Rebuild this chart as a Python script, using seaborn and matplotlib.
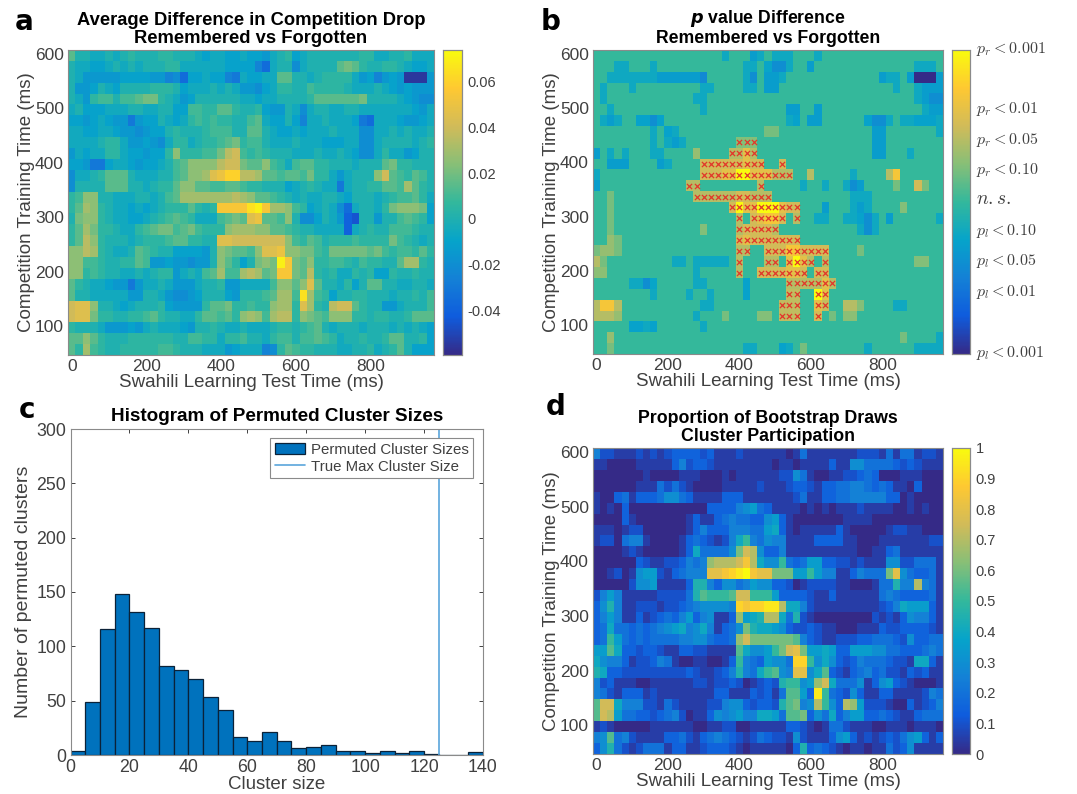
import numpy as np
import pandas as pd
import matplotlib.pyplot as plt
from matplotlib.colors import LinearSegmentedColormap
from matplotlib.transforms import ScaledTranslation
import seaborn as sns

# Time axes of the heatmaps (ms)
test_times = list(range(0, 980, 20))
train_times = list(range(600, 40, -20))

# Panel a, one row per training time from 600 down to 60, in units of 0.005
avg_diff = [
    [3, 0, 0, -1, -1, 0, -1, 0, 1, 0, 0, 0, 1, 1, 0, 0, 0, -1, -2, -1, -1, -2, -2, -1, -2, -2, -3, -1, 0, 1, -2, -1, 0, 0, 0, 0, 0, 0, 0, 1, 1, -1, -1, 0, 0, 1, -1, -1, -1],
    [0, -1, -1, -2, -2, -1, 0, -1, 0, -1, 0, 0, 0, 1, 1, -1, -1, -1, -1, -1, -1, -2, -2, -2, -2, -5, -7, -1, 0, 0, -4, -1, 0, 0, 0, 0, 3, 4, 3, 1, 0, 0, 1, 1, 0, -1, -2, -2, -1],
    [0, -1, -3, -3, -3, -3, -3, -2, -2, -2, -2, -3, -3, -5, -4, -7, -2, -2, -1, -2, -2, -5, -6, -1, -2, -2, -1, -1, 3, 3, 0, 0, -1, 0, 1, 1, 1, 1, -1, -3, -2, -5, -3, -2, -3, -11, -11, -11, -3],
    [0, -3, -3, -2, 0, -1, -2, 0, 0, 0, 0, 1, 1, 1, 0, -2, -1, -1, -1, 0, -1, 0, -1, -3, -3, -4, -2, -1, 1, 1, 0, 0, 2, 1, 1, 1, 1, 0, -1, -1, -1, 0, -1, -2, -3, -2, -3, -3, -3],
    [0, -1, -3, 1, 2, 2, 0, 2, 2, 3, 4, 4, 1, 0, -1, -3, -2, 0, 0, 0, 0, 0, 0, -1, -1, -2, -1, -1, 0, 0, 0, 0, 1, 3, 3, 3, 3, 3, 3, 4, 0, 0, 0, 0, -1, -2, -3, -4, -4],
    [-1, 0, -2, -2, -2, -1, -1, -1, 0, 0, -1, -1, 0, 0, -2, -2, 2, 2, 1, 1, 3, 3, 1, 0, 0, 1, -2, -3, -3, 0, -1, -4, -1, 0, 0, -1, -1, 0, 0, -1, -1, -1, -1, -1, -1, -1, -2, -3, -1],
    [-2, -2, -3, -2, -1, -2, -3, -3, -6, -3, -2, -2, 0, -1, -2, -1, 1, 2, 1, 2, 1, 1, 0, 0, 2, 3, -1, -2, -2, 0, -2, -5, -1, -1, 0, -1, -1, -1, -2, -6, -7, -1, -1, -1, -2, -3, -3, -2, -1],
    [-1, -1, -2, -2, -1, -1, -2, -3, -3, -4, -3, -2, -2, 0, 1, 0, 0, 0, 1, 2, 2, 2, 0, 0, 3, 3, 0, -1, -2, -2, -1, -2, -1, -1, -1, 0, -1, -1, -1, -4, -4, -1, -1, 0, -1, 0, -1, -1, 0],
    [-1, -1, -1, -1, 0, 1, 1, -1, -3, -3, -2, -3, -4, -1, 1, 1, -1, 0, 1, 1, 2, 3, 4, 1, 2, 2, 0, -1, -1, -1, 0, -1, -1, -1, -2, -2, -2, -1, -1, -4, -4, -1, 0, 0, 0, 0, -1, 0, 1],
    [-3, -1, -2, -1, -1, 1, 1, -1, -2, -2, -3, -2, -2, 1, 5, 1, 1, 1, 2, 2, 4, 7, 8, 2, 1, 2, 1, 0, 0, 0, -1, -1, -1, 0, -1, -1, 0, -1, -2, -4, -4, -1, 1, -1, -1, -3, -2, 0, 0],
    [-2, -2, -3, -6, -6, -2, -1, -1, -2, -3, -2, -2, -1, 0, 2, 3, 5, 5, 5, 5, 7, 8, 8, 4, 3, 3, 5, 2, 1, -1, 2, 3, 3, 1, 1, 0, 0, 0, -1, 0, 0, 0, 3, 4, 1, 1, 0, 0, 0],
    [-4, -1, -1, 0, 1, 3, 3, 3, 0, -1, -1, -1, 0, 0, 2, 3, 5, 5, 6, 9, 10, 12, 12, 7, 7, 6, 3, 3, 2, 3, 3, 2, 4, 1, 1, -1, -3, -1, 0, 0, 0, 5, 8, 3, 2, 1, 3, 2, 0],
    [-4, 0, 0, 0, 0, 3, 3, 3, 0, 0, -1, 0, 1, 1, 3, 5, 5, 3, 3, 2, 2, 3, 3, 2, 1, 1, 0, 0, 0, -2, -1, 0, 1, 0, -1, -1, -6, -1, 0, 0, 1, 1, 3, 3, 2, 6, 3, 1, 0],
    [1, 2, 5, 5, 0, 0, -1, -1, -1, 0, 0, -1, 0, 2, 3, 6, 6, 6, 6, 6, 6, 6, 7, 6, 5, 3, 3, 2, 1, 0, -1, 0, -1, -1, 0, 0, -1, -2, 0, 0, 0, -1, 0, 1, 2, 2, 3, 1, -1],
    [1, 3, 6, 5, 1, 0, -1, -1, -2, -1, -2, -1, 0, 1, 1, 1, 3, 1, 0, 1, 11, 11, 11, 11, 13, 14, 11, 6, 6, 5, 2, 1, -2, -1, 0, -1, -4, -7, -1, 0, 0, -1, 1, 4, 5, 5, 5, 4, -2],
    [0, 4, 5, 5, 1, 0, -1, -1, -2, -2, -1, 0, 1, 2, 3, 2, 1, -1, -1, -1, 2, 3, 4, 3, 9, 10, 3, 3, 2, 5, 0, -4, -4, -2, 0, -1, -3, -8, -9, 0, 0, -3, 0, 0, 2, 3, 2, 1, -2],
    [1, 3, 6, 4, 1, 1, 0, -1, -1, 1, 2, 3, 4, 4, 2, 3, 4, 2, 1, 1, 1, 5, 6, 6, 6, 5, 5, 3, 3, 2, 1, 0, 0, -1, -1, -1, -1, -8, -1, 0, 1, 0, 0, 2, 2, 2, 1, 0, 0],
    [1, 3, 7, 5, 1, 0, 0, 0, -1, 0, 1, 1, 1, 2, 3, 3, 1, 1, 0, 0, 9, 9, 8, 8, 8, 8, 8, 8, 8, 5, 2, 1, 3, 2, 0, 1, 1, 1, 2, 1, 1, 1, 1, 4, 2, 1, 0, -1, 0],
    [5, 5, 7, 6, 1, 0, -1, -1, 0, 3, 2, 1, 0, 0, -2, -2, -2, -2, -3, 0, 5, 4, 3, 3, 2, 5, 9, 9, 10, 5, 5, 4, 4, 2, 1, 4, 4, 4, 4, 4, 3, 4, 2, 1, 2, 2, 1, 3, 1],
    [5, 5, 2, 2, 1, 0, 0, 1, 1, 3, 2, -3, -3, -2, -3, -3, -4, -3, -3, 0, 5, 3, 1, -2, 0, 4, 5, 4, 14, 11, 4, 3, 5, 1, 1, 2, 2, 1, 0, 2, 1, 1, 0, 0, 3, 6, 6, 1, 0],
    [5, 5, 1, 2, 1, 0, 0, -1, -1, 0, -1, 0, 1, 1, -3, -1, 0, -1, 2, 3, 6, 2, 2, 6, 7, 6, 3, 4, 11, 11, 4, 3, 7, 1, 0, 1, -1, -1, 1, 0, 1, -2, -2, 1, 0, 0, 1, 0, 0],
    [3, 1, 0, -1, -1, -2, -3, -3, -6, -3, -1, -1, 0, -1, -3, -3, -3, -1, 0, 0, 1, -3, -3, -1, -1, -1, -1, 2, 5, 5, 3, 5, 9, 3, 0, 0, -1, 1, -2, 0, 3, 3, 0, 0, -1, -1, 0, 0, -1],
    [3, 0, 0, -1, -1, -1, -1, -1, -3, -3, 0, 0, -1, -3, -4, -4, -3, -2, 0, 0, 0, -2, -3, 1, 1, 1, 2, 3, 6, 6, 2, 13, 6, 2, 1, -2, 0, 0, 1, 1, 0, 0, 0, -1, 0, 0, 1, 0, 2],
    [8, 9, 9, 5, 0, 0, -1, -2, -1, 0, 0, 0, 1, -2, -3, -3, -3, -3, 1, 3, 3, 4, 1, 1, 2, 1, 1, 5, 6, 6, 1, 9, 6, 1, 0, 7, 8, 8, 3, 1, 0, 0, -3, -3, -1, 0, 0, 0, 2],
    [8, 9, 9, 4, 1, 1, 0, 0, 1, 1, 2, 3, 1, 0, 0, -1, -1, 1, 3, 3, 2, 3, 1, 5, 6, 5, 2, 6, 7, 7, 1, 5, 4, 3, 2, 5, 5, 5, 1, 1, 0, 1, 1, 0, 0, 1, 3, 3, 3],
    [1, 0, 0, 0, -1, -3, -3, -3, -2, -3, -1, 0, -1, -1, -1, -2, -3, 0, 0, 1, 0, -1, -1, 0, -1, -1, -1, 0, 1, 1, 0, 1, 2, 3, 0, -1, 0, 0, 0, -1, 0, 0, 0, -1, 0, -1, 0, -1, -2],
    [3, 3, 5, 3, 1, 0, 0, 0, 1, 1, 1, 1, 1, 1, 0, 0, 2, 2, 1, 1, -1, 1, 1, 2, 0, 0, -1, 1, 2, 2, 0, 2, 2, 3, 2, 1, -1, 0, 0, 1, 0, 0, 1, 3, 3, 0, 0, 1, -2],
    [3, 1, 6, 2, 1, 0, 0, 1, 1, 1, 1, 1, 2, 2, 1, 0, 0, 0, -1, -1, -1, -3, -2, -1, -1, -1, -5, -4, 1, 3, 2, 1, 1, 0, 0, 0, -1, -1, 0, 0, 1, -1, 0, 1, 3, 0, -2, -2, -2],
]

# Panel b, p value level per row as {column: level}; anything not listed is n.s.
p_levels = [
    {18: -1, 22: -1.5, 23: -1, 25: -1, 26: -1, 27: -1, 31: -1},
    {3: -1, 4: -1, 8: -1, 21: -1, 22: -1, 24: -1.2, 25: -2, 26: -2, 27: -1, 30: -1.5, 45: -1, 46: -1, 47: -1},
    {2: -1, 3: -1, 4: -1, 5: -1, 6: -1, 7: -1, 8: -1, 9: -1.5, 10: -1.5, 11: -1.5, 12: -1.5, 13: -1.5, 14: -1.5, 15: -2.2, 21: -1, 22: -2, 24: -1.5, 25: -1.5, 26: -1, 40: -1.5, 41: -1, 42: -1, 44: -1.5, 45: -5, 46: -5, 47: -5, 48: -1.5},
    {1: -1, 5: -1, 15: -1, 16: -1, 21: -1, 22: -1, 24: -1.5, 25: -1.5, 42: -1, 45: -1, 46: -1.5, 47: -1.5, 48: -1.5},
    {1: -1, 14: -1, 15: -1, 45: -1, 46: -1.5, 47: -2, 48: -2},
    {2: -1, 15: -1, 27: -1.5, 28: -1.5, 31: -1.5, 46: -1, 47: -1.5, 48: -1.5},
    {1: -1, 2: -1.5, 3: -1, 6: -1.3, 7: -1.3, 8: -2, 9: -1.3, 27: -1, 28: -1.3, 30: -1.5, 31: -1.5, 38: -1.3, 39: -2, 40: -2, 41: -1, 43: -1, 44: -1, 45: -1.3, 46: -1.3, 47: -1.3, 48: -1},
    {8: -1, 10: -1.3, 11: -1, 24: 1, 25: 1, 39: -1.5, 40: -1.5, 48: -1},
    {8: -1, 10: -1, 11: -1.5, 12: -1, 20: 1.2, 21: 1.2, 22: 1.2, 39: -1.5, 40: -1.5},
    {0: -1.5, 2: -1, 4: -1, 8: -1, 9: -1, 14: 1.5, 19: 2, 20: 2, 21: 3, 22: 2, 39: -1.5, 40: -1.5, 44: -1},
    {2: -1.5, 3: -1.5, 4: -1.5, 9: -1.5, 10: -1, 15: 2.5, 16: 2.5, 17: 2.5, 18: 2.5, 19: 2.5, 20: 2.5, 21: 3, 22: 2.5, 23: 2.5, 26: 2.5},
    {0: -1, 15: 2.5, 16: 2.5, 17: 2.5, 18: 3, 19: 3, 20: 5, 21: 5, 22: 3, 23: 3, 24: 3, 25: 2, 26: 2, 27: 2, 30: 2, 36: -1, 41: 2, 42: 3.5},
    {0: -1.5, 13: 2, 14: 2, 23: 2, 29: -1, 32: -1, 35: -1, 36: -2, 37: -1.5, 42: 1, 45: 2.5, 46: 1},
    {2: 1, 14: 2, 15: 2, 16: 2, 17: 2, 18: 2, 19: 2, 20: 2.5, 21: 2.5, 22: 2, 23: 2, 24: 2, 36: -1, 37: -1, 38: -1},
    {2: 1, 19: 2.5, 20: 5, 21: 3, 22: 3, 23: 5, 24: 5, 25: 5, 26: 3, 27: 2.5, 28: 2.5, 32: -1.5, 36: -1, 37: -1.5, 38: -1, 43: 1.2},
    {2: 1, 20: 2, 22: 2.5, 23: 3, 24: 3.5, 25: 3.5, 26: 2.5, 28: 2, 31: -1, 32: -1, 35: -1, 36: -1, 37: -1.3, 38: -2, 39: -1, 41: -1.5, 48: -1},
    {2: 1, 15: 1.2, 20: 2, 21: 2.5, 22: 2.5, 23: 2.5, 24: 2.5, 25: 2, 37: -1, 38: -2, 39: -1},
    {2: 1.5, 3: 1, 20: 2.5, 21: 3, 22: 2.5, 23: 2.5, 24: 2.5, 25: 2.5, 26: 2.5, 27: 2.5, 28: 2.5},
    {0: 1, 1: 1.5, 2: 1.5, 3: 1, 20: 2, 21: 2, 24: 2.5, 25: 2.5, 26: 2.5, 27: 3.5, 28: 3.5, 29: 2.5, 30: 2.5, 31: 2.5, 32: 2.5, 37: 1},
    {0: 2, 1: 1, 11: -1, 12: -1, 14: -1, 15: -1, 16: -1, 17: -1, 18: -1, 20: 2, 24: 2, 25: 2, 27: 3, 28: 5, 29: 3, 30: 2, 32: 2, 45: 1.2, 46: 1.2},
    {0: 1.3, 1: 1.3, 14: -1, 20: 2, 23: 2.5, 24: 2.5, 25: 2.5, 26: 2.5, 27: 3, 28: 3, 29: 2.5, 31: 2.5, 32: 2.5},
    {5: -1, 6: -1, 7: -2, 8: -1.2, 14: -1, 15: -1, 21: -1.3, 27: 2, 28: 2, 29: 2, 30: 2, 31: 2, 32: 3, 33: 2},
    {8: -1, 13: -1, 16: -1, 21: -1.3, 27: 2.2, 28: 2.2, 31: 5, 32: 3},
    {0: 2, 1: 3.5, 2: 3.5, 3: 2, 15: -1, 16: -1, 26: 2.2, 27: 2.2, 28: 2.2, 31: 3, 32: 2.3, 35: 2, 36: 2, 37: 1.2, 42: -1, 43: -1},
    {0: 2, 1: 2, 2: 2, 3: 1.5, 14: -1, 18: 1, 23: 1.2, 24: 1.2, 26: 2.2, 27: 2.2, 28: 2.2, 31: 2.5, 33: 1, 35: 1.3, 36: 1.3},
    {5: -1.3, 6: -1.3, 7: -1, 8: -1.3, 15: -1},
    {2: 1.5, 43: 1, 48: -1},
    {2: 1, 21: -1, 22: -1, 26: -1.3, 27: -1, 29: 1, 38: -1, 45: -1, 46: -1, 47: -1, 48: -1},
]

# Panel b, columns with a significant-cluster cross, keyed by row
cross_cols = {
    8: [20, 21, 22],
    9: [19, 20, 21, 22],
    10: [15, 16, 17, 18, 19, 20, 21, 22, 23, 26],
    11: [15, 16, 17, 18, 19, 20, 21, 22, 23, 24, 25, 26, 27],
    12: [13, 14, 23],
    13: [14, 15, 16, 17, 18, 19, 20, 21, 22, 23, 24],
    14: [19, 20, 21, 22, 23, 24, 25, 26, 27, 28],
    15: [20, 22, 23, 24, 25, 26, 28],
    16: [20, 21, 22, 23, 24, 25],
    17: [20, 21, 22, 23, 24, 25, 26, 27, 28],
    18: [20, 21, 24, 25, 26, 27, 28, 29, 30, 31, 32],
    19: [20, 24, 25, 27, 28, 29, 30, 32],
    20: [20, 23, 24, 25, 26, 27, 28, 29, 31, 32],
    21: [27, 28, 29, 30, 31, 32, 33],
    22: [27, 28, 31, 32],
    23: [26, 27, 28, 31, 32],
    24: [26, 27, 28, 31],
}

# Panel c histogram
bin_edges = list(range(0, 145, 5))
bin_counts = [4, 49, 116, 148, 132, 117, 82, 78, 70, 53, 41, 17, 13, 21, 13, 6, 7, 9, 4, 4, 2, 4, 2, 4, 1, 0, 0, 3]
true_max_size = 125

# Panel d, one row per training time, in units of 0.05
boot_prop = [
    [5, 2, 2, 1, 1, 1, 2, 1, 2, 1, 2, 3, 3, 3, 3, 2, 3, 1, 1, 1, 2, 1, 1, 1, 1, 1, 1, 0, 1, 4, 1, 1, 1, 1, 1, 1, 1, 2, 2, 2, 1, 4, 1, 4, 4, 1, 2, 2, 1],
    [1, 1, 0, 0, 0, 0, 1, 1, 1, 1, 1, 3, 5, 2, 3, 3, 2, 1, 1, 1, 1, 1, 1, 1, 1, 0, 1, 1, 0, 1, 1, 1, 1, 3, 1, 1, 6, 6, 4, 4, 4, 4, 3, 2, 3, 2, 1, 1, 1],
    [0, 0, 0, 0, 0, 0, 0, 1, 0, 0, 0, 0, 1, 1, 1, 0, 0, 0, 1, 0, 1, 1, 1, 1, 1, 1, 2, 2, 6, 4, 1, 0, 0, 1, 1, 2, 2, 3, 4, 3, 0, 0, 0, 1, 1, 1, 0, 0, 0],
    [0, 0, 0, 0, 0, 0, 1, 1, 1, 4, 2, 4, 2, 1, 0, 0, 0, 0, 1, 1, 1, 1, 1, 2, 1, 1, 1, 2, 3, 3, 2, 1, 3, 3, 4, 4, 5, 5, 4, 3, 4, 3, 1, 1, 0, 3, 0, 0, 0],
    [1, 0, 0, 3, 4, 1, 3, 3, 3, 4, 6, 6, 4, 3, 1, 1, 1, 1, 3, 3, 3, 1, 1, 1, 1, 1, 1, 1, 2, 4, 1, 1, 3, 3, 4, 4, 5, 5, 5, 5, 5, 3, 3, 0, 1, 0, 0, 0, 0],
    [1, 0, 1, 0, 3, 0, 0, 0, 0, 0, 0, 0, 0, 0, 0, 0, 3, 3, 3, 3, 5, 6, 7, 4, 3, 1, 1, 1, 1, 0, 1, 0, 1, 0, 1, 1, 1, 2, 1, 1, 1, 1, 0, 0, 1, 0, 1, 0, 0],
    [0, 0, 0, 0, 3, 1, 0, 0, 0, 0, 0, 0, 0, 1, 3, 1, 1, 3, 4, 5, 4, 4, 3, 3, 6, 7, 3, 1, 0, 0, 0, 0, 0, 0, 0, 1, 1, 1, 1, 0, 0, 0, 0, 0, 0, 0, 0, 0, 0],
    [1, 1, 1, 0, 1, 2, 2, 0, 0, 0, 0, 0, 0, 1, 3, 5, 3, 3, 3, 5, 5, 5, 4, 4, 7, 8, 3, 1, 0, 1, 1, 1, 1, 1, 3, 1, 0, 0, 0, 0, 0, 1, 2, 2, 1, 1, 0, 0, 0],
    [1, 2, 2, 0, 4, 5, 5, 1, 0, 0, 0, 0, 1, 3, 4, 3, 2, 1, 2, 5, 8, 10, 5, 4, 6, 5, 5, 1, 1, 1, 1, 3, 3, 3, 3, 1, 1, 0, 0, 0, 1, 1, 1, 1, 1, 1, 1, 2, 2],
    [0, 0, 0, 0, 1, 2, 1, 0, 0, 0, 0, 0, 1, 3, 8, 4, 4, 4, 4, 6, 12, 15, 14, 6, 3, 3, 5, 1, 1, 1, 1, 1, 1, 1, 1, 1, 1, 0, 0, 1, 1, 3, 4, 1, 1, 1, 1, 1, 1],
    [0, 0, 0, 0, 0, 0, 3, 2, 1, 1, 2, 2, 3, 5, 4, 5, 13, 14, 14, 14, 15, 17, 14, 8, 6, 6, 10, 4, 3, 4, 7, 7, 3, 3, 2, 2, 1, 2, 1, 1, 1, 6, 6, 2, 2, 4, 4, 4, 1],
    [0, 0, 1, 2, 0, 1, 6, 7, 7, 2, 1, 3, 4, 5, 5, 5, 16, 16, 17, 18, 19, 20, 17, 16, 16, 12, 12, 12, 7, 7, 10, 7, 5, 5, 1, 1, 3, 5, 4, 4, 4, 12, 16, 6, 4, 3, 3, 4, 1],
    [0, 0, 0, 0, 0, 2, 6, 6, 7, 1, 1, 1, 1, 3, 9, 9, 5, 3, 6, 6, 4, 5, 7, 6, 6, 3, 3, 2, 0, 1, 2, 2, 2, 2, 1, 1, 0, 0, 0, 1, 4, 4, 9, 5, 5, 14, 5, 4, 1],
    [2, 5, 7, 5, 1, 1, 1, 1, 1, 2, 2, 2, 2, 4, 9, 11, 10, 10, 10, 11, 15, 15, 10, 10, 10, 7, 3, 3, 3, 3, 2, 1, 1, 3, 1, 1, 1, 1, 1, 1, 4, 5, 4, 3, 3, 3, 3, 4, 1],
    [3, 6, 9, 5, 1, 1, 2, 2, 2, 1, 2, 2, 3, 4, 5, 6, 6, 6, 6, 5, 18, 17, 18, 18, 19, 19, 14, 8, 8, 5, 2, 1, 1, 1, 1, 1, 1, 1, 1, 1, 2, 3, 5, 8, 7, 7, 7, 3, 1],
    [3, 5, 7, 5, 1, 1, 3, 1, 2, 3, 4, 3, 5, 7, 3, 5, 6, 1, 1, 3, 13, 7, 8, 9, 14, 14, 8, 4, 9, 2, 1, 0, 0, 0, 0, 0, 0, 0, 0, 2, 1, 2, 1, 3, 6, 5, 5, 3, 1],
    [3, 4, 8, 4, 4, 3, 4, 3, 4, 5, 6, 7, 8, 5, 6, 8, 5, 1, 3, 4, 6, 12, 9, 8, 8, 7, 6, 3, 2, 2, 3, 2, 1, 1, 0, 0, 0, 1, 1, 1, 3, 2, 2, 3, 3, 3, 3, 2, 1],
    [3, 4, 10, 7, 4, 3, 4, 3, 4, 4, 4, 4, 5, 5, 6, 6, 4, 3, 3, 4, 13, 15, 12, 12, 12, 12, 12, 12, 11, 5, 3, 2, 1, 1, 2, 2, 2, 3, 3, 4, 4, 4, 3, 2, 6, 3, 3, 4, 4],
    [7, 7, 11, 8, 3, 3, 2, 3, 3, 2, 1, 1, 3, 3, 2, 2, 1, 1, 1, 1, 11, 8, 6, 6, 7, 10, 12, 15, 16, 12, 7, 7, 8, 7, 3, 3, 7, 7, 7, 6, 6, 4, 4, 3, 3, 3, 4, 5, 4],
    [8, 6, 5, 5, 3, 1, 2, 2, 3, 5, 4, 1, 0, 0, 1, 1, 0, 0, 1, 3, 10, 5, 4, 3, 7, 6, 6, 4, 18, 18, 10, 6, 8, 6, 3, 2, 3, 5, 4, 4, 4, 3, 2, 2, 1, 8, 8, 3, 1],
    [9, 8, 3, 3, 2, 2, 2, 2, 2, 2, 2, 2, 2, 3, 2, 1, 1, 2, 3, 5, 9, 5, 4, 8, 10, 11, 6, 5, 16, 16, 6, 8, 11, 3, 2, 1, 3, 4, 5, 3, 4, 2, 2, 1, 3, 2, 3, 1, 1],
    [5, 2, 3, 1, 1, 1, 0, 0, 1, 1, 1, 1, 1, 1, 2, 2, 1, 2, 2, 3, 2, 0, 1, 2, 3, 2, 9, 10, 10, 6, 7, 13, 15, 8, 4, 4, 4, 6, 1, 3, 6, 7, 3, 2, 1, 0, 0, 0, 1],
    [5, 4, 2, 1, 3, 3, 3, 1, 2, 1, 1, 1, 1, 1, 1, 1, 1, 3, 3, 1, 1, 1, 3, 2, 3, 1, 4, 11, 11, 7, 3, 19, 10, 4, 3, 2, 6, 3, 1, 1, 3, 3, 1, 1, 1, 1, 2, 5, 4],
    [11, 15, 15, 8, 5, 5, 5, 2, 2, 1, 4, 2, 1, 1, 1, 1, 2, 2, 5, 6, 6, 3, 2, 3, 3, 2, 9, 11, 12, 5, 6, 14, 10, 6, 3, 14, 13, 7, 2, 2, 2, 1, 0, 0, 3, 1, 2, 3, 5],
    [11, 15, 14, 7, 4, 4, 3, 3, 2, 3, 4, 5, 2, 0, 1, 1, 3, 6, 5, 6, 7, 5, 5, 8, 8, 7, 4, 11, 11, 12, 3, 6, 4, 8, 3, 5, 7, 7, 3, 3, 4, 3, 2, 1, 1, 3, 4, 4, 4],
    [1, 2, 1, 0, 0, 0, 0, 0, 1, 1, 1, 1, 1, 1, 0, 0, 1, 1, 2, 2, 0, 0, 1, 1, 1, 1, 1, 3, 3, 2, 1, 0, 1, 4, 4, 2, 1, 1, 1, 0, 0, 1, 1, 1, 0, 1, 1, 1, 0],
    [5, 6, 11, 4, 5, 2, 1, 1, 1, 1, 3, 3, 4, 2, 1, 3, 4, 5, 4, 3, 2, 1, 2, 4, 3, 2, 2, 1, 6, 2, 1, 1, 1, 3, 6, 7, 3, 1, 2, 1, 2, 3, 2, 4, 6, 7, 3, 1, 3],
    [3, 6, 9, 4, 2, 1, 2, 4, 4, 4, 1, 3, 3, 1, 1, 2, 3, 3, 3, 2, 1, 0, 1, 1, 1, 1, 1, 0, 3, 9, 3, 4, 3, 2, 1, 0, 1, 1, 0, 1, 1, 4, 2, 3, 6, 1, 1, 1, 1],
]

xtick_times = [0, 200, 400, 600, 800]
ytick_times = [100, 200, 300, 400, 500, 600]
avg_cbar_ticks = [-0.04, -0.02, 0, 0.02, 0.04, 0.06]
avg_cbar_labels = ["-0.04", "-0.02", "0", "0.02", "0.04", "0.06"]
p_cbar_ticks = [5, 3, 2, 1, 0, -1, -2, -3, -5]
p_cbar_labels = [r"$p_r < 0.001$", r"$p_r < 0.01$", r"$p_r < 0.05$", r"$p_r < 0.10$", r"$n{.}s{.}$",
                 r"$p_l < 0.10$", r"$p_l < 0.05$", r"$p_l < 0.01$", r"$p_l < 0.001$"]
boot_cbar_ticks = [0, 0.1, 0.2, 0.3, 0.4, 0.5, 0.6, 0.7, 0.8, 0.9, 1]
boot_cbar_labels = ["0", "0.1", "0.2", "0.3", "0.4", "0.5", "0.6", "0.7", "0.8", "0.9", "1"]

sns.set_theme(style="white")
plt.rcParams['font.family'] = ['Liberation Sans', 'DejaVu Sans']
plt.rcParams['mathtext.fontset'] = 'cm'

INK = "#404040"
EDGE = "#8a8a8a"
parula = LinearSegmentedColormap.from_list(
    "parula", ["#352a87", "#0f5cdd", "#1481d6", "#06a4ca", "#33b89c", "#87bf77", "#d1bb59", "#fec832", "#f9fb0e"])

W, H = 1077, 794
fig = plt.figure(figsize=(W / 100, H / 100), dpi=100, facecolor="white")


def px_axes(left, top, right, bottom):
    """Axes from pixel edges, y counted from the top of the image."""
    return fig.add_axes([left / W, 1 - bottom / H, (right - left) / W, (bottom - top) / H])


def style_box(ax):
    for spine in ax.spines.values():
        spine.set_visible(True)
        spine.set_color(EDGE)
        spine.set_linewidth(0.8)


def draw_heatmap(values, box, cbar_box, vmin, vmax, title, ticks, tick_labels, title_size, cbar_size):
    ax = px_axes(*box)
    cax = px_axes(*cbar_box)
    df = pd.DataFrame(values, index=train_times, columns=test_times)
    sns.heatmap(df, ax=ax, cbar_ax=cax, cmap=parula, vmin=vmin, vmax=vmax)

    ax.set_xticks([t / 20 + 0.5 for t in xtick_times])
    ax.set_xticklabels([str(t) for t in xtick_times], rotation=0)
    ax.set_yticks([(train_times[0] - t) / 20 + 0.5 for t in ytick_times])
    ax.set_yticklabels([str(t) for t in ytick_times], rotation=0)
    ax.tick_params(axis='both', direction='in', length=3, width=0.7, color=INK, labelcolor=INK,
                   labelsize=12.5, top=True, right=True, pad=3)
    ax.set_title(title, fontsize=title_size, fontweight='bold', color="black", pad=5, linespacing=1.05,
                 math_fontfamily='dejavusans')
    style_box(ax)

    cax.set_yticks(ticks)
    cax.set_yticklabels(tick_labels)
    cax.tick_params(axis='y', direction='in', length=3, width=0.7, color=INK, labelcolor=INK,
                    labelsize=cbar_size, pad=4)
    style_box(cax)
    return ax, cax


def label_heatmap(ax):
    ax.set_xlabel("Swahili Learning Test Time (ms)", fontsize=13.5, color=INK, labelpad=0)
    ax.set_ylabel("Competition Training Time (ms)", fontsize=13.5, color=INK, labelpad=0)


# Panel a
avg_values = np.array(avg_diff) * 0.005
ax_a, _ = draw_heatmap(avg_values, (68, 50, 434, 355), (443, 50, 462, 355), -0.0594, 0.0738,
                       "Average Difference in Competition Drop\nRemembered vs Forgotten",
                       avg_cbar_ticks, avg_cbar_labels, 13.2, 10.5)
label_heatmap(ax_a)

# Panel b
p_values = np.zeros((len(train_times), len(test_times)))
for row, levels in enumerate(p_levels):
    for col, level in levels.items():
        p_values[row, col] = level
ax_b, cax_b = draw_heatmap(p_values, (593, 50, 943, 354), (952, 50, 970, 354), -5, 5,
                           "$\\mathbfit{p}$ value Difference\nRemembered vs Forgotten",
                           p_cbar_ticks, p_cbar_labels, 12.7, 11.5)
cross_df = pd.DataFrame([(col + 0.5, row + 0.5) for row, cols in cross_cols.items() for col in cols],
                        columns=["col", "row"])
sns.scatterplot(data=cross_df, x="col", y="row", ax=ax_b, marker="x", color="#e2382b", s=14, linewidth=0.9,
                legend=False, zorder=3)
ax_b.set_xlim(0, len(test_times))
ax_b.set_ylim(len(train_times), 0)
label_heatmap(ax_b)
for label in cax_b.get_yticklabels():
    label.set_transform(label.get_transform() + ScaledTranslation(0, 0.04, fig.dpi_scale_trans))
    if "n{.}s" in label.get_text():
        label.set_fontsize(14)

# Panel c
ax_c = px_axes(70.5, 429, 483, 755)
centers = [(a + b) / 2 for a, b in zip(bin_edges[:-1], bin_edges[1:])]
sns.histplot(x=centers, weights=bin_counts, bins=bin_edges, ax=ax_c, color="#0072bd", alpha=1,
             edgecolor="#0b2238", linewidth=0.9, label="Permuted Cluster Sizes")
ax_c.axvline(true_max_size, color="#5aa5dc", lw=1.2, label="True Max Cluster Size")
ax_c.set_xlim(0, 140)
ax_c.set_ylim(0, 300)
ax_c.set_xticks(list(range(0, 160, 20)))
ax_c.set_yticks(list(range(0, 350, 50)))
ax_c.tick_params(axis='both', direction='in', length=3, width=0.7, color=INK, labelcolor=INK,
                 labelsize=12.8, top=True, right=True, left=True, bottom=True, pad=3)
ax_c.set_xlabel("Cluster size", fontsize=13.5, color=INK, labelpad=0)
ax_c.set_ylabel("Number of permuted clusters", fontsize=14, color=INK, labelpad=3)
ax_c.set_title("Histogram of Permuted Cluster Sizes", fontsize=13.6, fontweight='bold', color="black", pad=6)
style_box(ax_c)
handles, labels = ax_c.get_legend_handles_labels()
order = [labels.index("Permuted Cluster Sizes"), labels.index("True Max Cluster Size")]
legend = ax_c.legend([handles[i] for i in order], [labels[i] for i in order], loc="upper right",
                     bbox_to_anchor=(0.976, 0.972), borderaxespad=0, fontsize=10.8,
                     frameon=True, fancybox=False, edgecolor=EDGE, framealpha=1, labelspacing=0.2,
                     handlelength=2.0, handletextpad=0.4, borderpad=0.3, labelcolor=INK)
legend.get_frame().set_linewidth(0.8)

# Panel d
boot_values = np.array(boot_prop) * 0.05
ax_d, _ = draw_heatmap(boot_values, (593, 448, 943, 754), (952, 448, 970, 754), 0, 1,
                       "Proportion of Bootstrap Draws\nCluster Participation",
                       boot_cbar_ticks, boot_cbar_labels, 12.8, 10.5)
label_heatmap(ax_d)

# Panel letters
for letter, x, y in [("a", 15, 30), ("b", 541, 30), ("c", 19, 418), ("d", 546, 415)]:
    fig.text(x / W, 1 - y / H, letter, fontsize=20, fontweight='bold', color="black",
             family='DejaVu Sans', ha='left', va='baseline')

fig.savefig("out.png", dpi=100, facecolor="white")
